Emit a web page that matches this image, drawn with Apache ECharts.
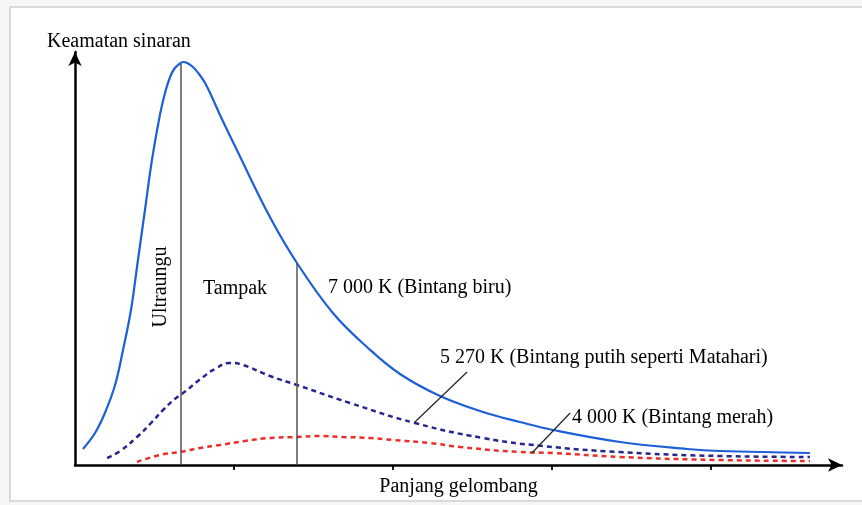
<!DOCTYPE html>
<html>
<head>
<meta charset="utf-8">
<script src="https://cdn.jsdelivr.net/npm/echarts@6/dist/echarts.min.js"></script>
<style>
html,body{margin:0;padding:0;background:#f6f6f6;}
#c{width:862px;height:505px;}
</style>
</head>
<body>
<div id="c"></div>
<script>
// Wavelength (nm-like units) and relative intensity
const blueX = [25,63,94,126,151,176,198,220,242,267,283,299,314,328,340,353,371,390,409,432,456,509,613,698,811,918,1022,1148,1283,1399,1503,1714,1925,2028,2311];
const blueY = [16,32,52,80,115,155,205,255,305,350,372,388,397,401,403,402,398,391,382,367,350,315,248,202,152,118,91,69,53,43,35,23,16,14,12];
const sunX = [101,142,195,236,277,314,340,403,440,487,528,613,698,865,1069,1283,1472,1714,2028,2311];
const sunY = [7,14,28,41,55,66,72,88,96,102,100,89,80,62,42,27,19,13,9,8];
const redX = [195,267,330,393,456,535,613,698,770,843,928,1000,1116,1211,1399,1503,1714,2028,2311];
const redY = [3,10,13,17,20,24,27,28,29,28,27,25,22,18,13,12,8,5,4];
const xTicks = [500,1000,1500,2000];
const uvBoundary = 333, visBoundary = 698;
const leader5270 = [[1233,93],[1069,43]];
const leader4000 = [[1557,52],[1437,12]];

const zip = (xs, ys) => xs.map((x, i) => [x, ys[i]]);
const font = '"Liberation Serif", "DejaVu Serif", serif';
const chart = echarts.init(document.getElementById('c'));
const blueAt = x => {
  let best = 0, d = 1e9;
  blueX.forEach((bx, i) => { if (Math.abs(bx - x) < d) { d = Math.abs(bx - x); best = blueY[i]; } });
  return best;
};
chart.setOption({
  backgroundColor: 'transparent',
  animation: false,
  graphic: [
    {type:'rect', shape:{x:10,y:7,width:860,height:494}, style:{fill:'#ffffff', stroke:'#cfcfcf', lineWidth:1.5}, z:-10},
    {type:'text', x:47, y:42, style:{text:'Keamatan sinaran', font:'20px ' + font, fill:'#000', verticalAlign:'middle'}},
    {type:'text', x:161, y:287, rotation:Math.PI/2, style:{text:'Ultraungu', font:'20px ' + font, fill:'#000', align:'center', verticalAlign:'middle'}},
    {type:'text', x:235, y:289, style:{text:'Tampak', font:'20px ' + font, fill:'#000', align:'center', verticalAlign:'middle'}},
    {type:'text', x:328, y:288, style:{text:'7 000 K (Bintang biru)', font:'20px ' + font, fill:'#000', verticalAlign:'middle'}},
    {type:'text', x:440, y:358, style:{text:'5 270 K (Bintang putih seperti Matahari)', font:'20px ' + font, fill:'#000', verticalAlign:'middle'}},
    {type:'text', x:572, y:418, style:{text:'4 000 K (Bintang merah)', font:'20px ' + font, fill:'#000', verticalAlign:'middle'}}
  ],
  grid: {left:75, right:20, top:52, bottom:40, outerBoundsMode:'none', containLabel:false},
  xAxis: {
    type:'value', min:0, max:2412, interval:500,
    axisLine:{show:true, lineStyle:{color:'#000', width:2.5}, symbol:['none','arrow'], symbolSize:[10,14]},
    axisTick:{show:true, length:5, customValues:xTicks, lineStyle:{color:'#000', width:1.8}},
    axisLabel:{show:false}, splitLine:{show:false},
    name:'Panjang gelombang', nameLocation:'middle', nameGap:12,
    nameTextStyle:{fontFamily:font, fontSize:20, color:'#000'}
  },
  yAxis: {
    type:'value', min:0, max:413,
    axisLine:{show:true, lineStyle:{color:'#000', width:2.5}, symbol:['none','arrow'], symbolSize:[10,14]},
    axisTick:{show:false}, axisLabel:{show:false}, splitLine:{show:false}
  },
  series: [
    {type:'line', data: zip(redX, redY), smooth:0.5, showSymbol:false,
     lineStyle:{color:'#e8302a', width:2.5, type:[5,4]}},
    {type:'line', data: zip(sunX, sunY), smooth:0.5, showSymbol:false,
     lineStyle:{color:'#26268f', width:2.5, type:[5,4]},
     markLine:{symbol:'none', silent:true, label:{show:false},
       lineStyle:{color:'#222', width:1.2, type:'solid'},
       data:[[{coord:leader5270[0]},{coord:leader5270[1]}],[{coord:leader4000[0]},{coord:leader4000[1]}]]}},
    {type:'line', data: zip(blueX, blueY), smooth:0.4, showSymbol:false,
     lineStyle:{color:'#1c5fd8', width:2.2},
     markLine:{symbol:'none', silent:true, label:{show:false},
       lineStyle:{color:'#555', width:1.5, type:'solid'},
       data:[[{coord:[uvBoundary,0]},{coord:[uvBoundary,blueAt(uvBoundary)]}],
             [{coord:[visBoundary,0]},{coord:[visBoundary,blueAt(visBoundary)]}]]}}
  ]
});
</script>
</body>
</html>
